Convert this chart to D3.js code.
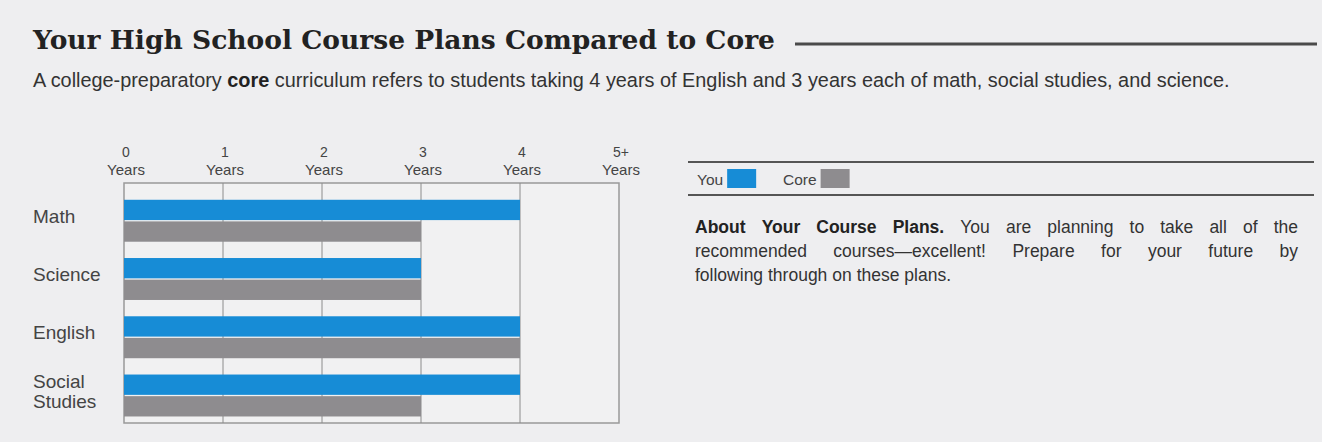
<!DOCTYPE html>
<meta charset="utf-8">
<style>
  body { margin: 0; background: #eeeef0; }
  text { font-family: "Liberation Sans", Arial, sans-serif; }
  .title { font-family: "DejaVu Serif", Georgia, serif; font-weight: bold; fill: #222; }
  .grid { stroke: #8c8c8c; stroke-width: 1px; }
  .frame { fill: #f1f1f2; stroke: #999; stroke-width: 1.5px; }
</style>
<html>
<body>
<script src="https://d3js.org/d3.v7.min.js"></script>
<script>
  var width = 1322, height = 442;

  // data
  var categories = ["Math", "Science", "English", "Social Studies"];
  var catLabels = [["Math"], ["Science"], ["English"], ["Social", "Studies"]];
  var series = ["You", "Core"];
  var youYears = [4, 3, 4, 4];
  var coreYears = [3, 3, 4, 3];
  var tickValues = [0, 1, 2, 3, 4, 5];
  var tickLabels = ["0", "1", "2", "3", "4", "5+"];
  var colors = ["#178cd6", "#8e8c8f"];

  var titleText = "Your High School Course Plans Compared to Core";
  var subParts = [
    ["A college-preparatory ", "normal"],
    ["core", "bold"],
    [" curriculum refers to students taking 4 years of English and 3 years each of math, social studies, and science.", "normal"]
  ];
  var paraLines = [
    [["About Your Course Plans.", "bold"], ["You are planning to take all of the", "normal"]],
    [["recommended courses\u2014excellent! Prepare for your future by", "normal"]],
    [["following through on these plans.", "normal"]]
  ];

  var svg = d3.select("body").append("svg")
    .attr("width", width)
    .attr("height", height);

  svg.append("rect").attr("width", width).attr("height", height).attr("fill", "#eeeef0");

  // title + rule
  var title = svg.append("text")
    .attr("class", "title")
    .attr("x", 33)
    .attr("y", 49)
    .style("font-size", "26px")
    .text(titleText);
  title.attr("textLength", 742).attr("lengthAdjust", "spacingAndGlyphs");

  svg.append("line")
    .attr("x1", 795).attr("x2", 1317)
    .attr("y1", 44).attr("y2", 44)
    .attr("stroke", "#4a4a4a")
    .attr("stroke-width", 3);

  // subtitle
  var sub = svg.append("text")
    .attr("x", 33)
    .attr("y", 87)
    .style("font-size", "17px")
    .attr("fill", "#333");
  sub.selectAll("tspan").data(subParts).join("tspan")
    .style("font-weight", function(d){ return d[1]; })
    .attr("fill", function(d){ return d[1] == "bold" ? "#222" : "#333"; })
    .text(function(d){ return d[0]; });
  var subLen = sub.node().getComputedTextLength();
  sub.style("font-size", (17 * 1197 / subLen) + "px");

  // chart
  var x = d3.scaleLinear().domain([0, 5]).range([124, 619]);
  var y = d3.scaleBand().domain(categories).range([183, 423])
    .paddingInner(0.28).paddingOuter(0.2).align(0.72);
  var y2 = d3.scaleBand().domain(series).range([0, y.bandwidth()]).paddingInner(0.06);

  svg.append("rect")
    .attr("class", "frame")
    .attr("x", x(0)).attr("y", 183)
    .attr("width", x(5) - x(0)).attr("height", 240);

  svg.selectAll("line.grid")
    .data(tickValues.slice(1, 5))
    .join("line")
    .attr("class", "grid")
    .attr("x1", function(d){ return x(d); })
    .attr("x2", function(d){ return x(d); })
    .attr("y1", 183).attr("y2", 423);

  var ticks = svg.selectAll("g.tick")
    .data(tickValues)
    .join("g")
    .attr("class", "tick")
    .attr("transform", function(d){ return "translate(" + (x(d) + 2) + ",0)"; });
  ticks.append("text")
    .attr("y", 157)
    .attr("text-anchor", "middle")
    .style("font-size", "14px")
    .attr("fill", "#444")
    .text(function(d, i){ return tickLabels[i]; });
  ticks.append("text")
    .attr("y", 175)
    .attr("text-anchor", "middle")
    .style("font-size", "15px")
    .attr("fill", "#444")
    .text("Years");

  var rows = svg.selectAll("g.row")
    .data(categories)
    .join("g")
    .attr("class", "row")
    .attr("transform", function(d){ return "translate(0," + y(d) + ")"; });

  rows.selectAll("rect")
    .data(function(d, i){ return [youYears[i], coreYears[i]].map(function(v, j){ return {s: series[j], v: v}; }); })
    .join("rect")
    .attr("x", x(0))
    .attr("y", function(d){ return y2(d.s); })
    .attr("width", function(d){ return x(d.v) - x(0); })
    .attr("height", y2.bandwidth())
    .attr("fill", function(d, j){ return colors[j]; });

  rows.each(function(d, i){
    var lines = catLabels[i];
    var t = d3.select(this).append("text")
      .attr("x", 33)
      .style("font-size", "19px")
      .attr("fill", "#444");
    var mid = y.bandwidth() / 2 - 5;
    lines.forEach(function(l, k){
      t.append("tspan")
        .attr("x", 33)
        .attr("y", mid + 7 + (k - (lines.length - 1) / 2) * 20)
        .text(l);
    });
  });

  // legend
  svg.selectAll("line.leg")
    .data([162, 195])
    .join("line")
    .attr("class", "leg")
    .attr("x1", 688).attr("x2", 1314)
    .attr("y1", function(d){ return d; }).attr("y2", function(d){ return d; })
    .attr("stroke", "#555")
    .attr("stroke-width", 2);

  var legX = [697, 783];
  var leg = svg.selectAll("g.legitem")
    .data(series)
    .join("g")
    .attr("class", "legitem")
    .attr("transform", function(d, i){ return "translate(" + legX[i] + ",0)"; });
  leg.append("text")
    .attr("y", 185)
    .style("font-size", "15.5px")
    .attr("fill", "#444")
    .text(function(d){ return d; });
  leg.append("rect")
    .attr("x", function(){ return this.parentNode.querySelector("text").getComputedTextLength() + 4; })
    .attr("y", 169)
    .attr("width", 29)
    .attr("height", 19)
    .attr("fill", function(d, i){ return colors[i]; });

  // paragraph, justified by hand
  var pLeft = 695, pRight = 1298, pSize = 17.5;
  paraLines.forEach(function(parts, li){
    var words = [];
    parts.forEach(function(p){
      p[0].split(" ").forEach(function(w){ words.push([w, p[1]]); });
    });
    var g = svg.append("g");
    var ws = words.map(function(w){
      return g.append("text")
        .attr("y", 233 + li * 24)
        .style("font-size", pSize + "px")
        .style("font-weight", w[1])
        .attr("fill", w[1] == "bold" ? "#222" : "#333")
        .text(w[0]);
    });
    var lens = ws.map(function(t){ return t.node().getComputedTextLength(); });
    var total = d3.sum(lens);
    var gap = li < paraLines.length - 1 ? (pRight - pLeft - total) / (ws.length - 1) : pSize * 0.28;
    var cx = pLeft;
    ws.forEach(function(t, k){
      t.attr("x", cx);
      cx += lens[k] + gap;
    });
  });
</script>
</body>
</html>
